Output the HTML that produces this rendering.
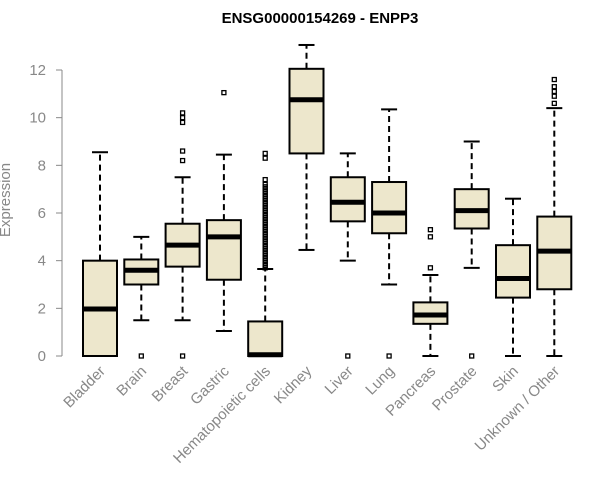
<!DOCTYPE html>
<html><head><meta charset="utf-8"><style>
body{margin:0;background:#fff;}
svg{display:block;font-family:"Liberation Sans",sans-serif;}
</style></head><body>
<svg id="chart" width="600" height="500"></svg>
<script>
const categories=["Bladder","Brain","Breast","Gastric","Hematopoietic cells","Kidney","Liver","Lung","Pancreas","Prostate","Skin","Unknown / Other"];
const whiskerLow=[0,1.5,1.5,1.05,0,4.45,4.0,3.0,0,3.7,0,0];
const q1=[0,3.0,3.75,3.2,0,8.5,5.65,5.15,1.35,5.35,2.45,2.8];
const medians=[1.97,3.6,4.65,5.0,0.05,10.75,6.45,6.0,1.72,6.1,3.25,4.4];
const q3=[4.0,4.05,5.55,5.7,1.45,12.05,7.5,7.3,2.25,7.0,4.65,5.85];
const whiskerHigh=[8.55,5.0,7.5,8.45,3.65,13.05,8.5,10.35,3.4,9.0,6.6,10.4];
const outliers=[[],[0],[0,8.2,8.6,9.8,10.0,10.2],[11.05],
[3.7,3.8,3.9,4.0,4.1,4.2,4.3,4.4,4.5,4.6,4.7,4.8,4.9,5.0,5.1,5.2,5.3,5.4,5.5,5.6,5.7,5.8,5.9,6.0,6.1,6.2,6.3,6.4,6.5,6.6,6.7,6.8,6.9,7.0,7.1,7.2,7.4,8.3,8.5],
[],[0],[0],[3.7,5.0,5.3],[0],[],[10.6,10.9,11.1,11.3,11.6]];
const yTicks=[0,2,4,6,8,10,12];

const NS="http://www.w3.org/2000/svg";
const svg=document.getElementById('chart');
const y=v=>356-v*(286/12);
const x=i=>100+i*41.3;
function mk(t,a){const e=document.createElementNS(NS,t);for(const k in a)e.setAttribute(k,a[k]);svg.appendChild(e);return e;}

const title=mk('text',{x:320,y:23,'text-anchor':'middle','font-size':15,'font-weight':'bold',fill:'#000'});
title.textContent="ENSG00000154269 - ENPP3";



const ax=mk('line',{x1:62,x2:62,y1:y(0),y2:y(12),stroke:'#888','stroke-width':1});


yTicks.forEach(v=>{
  mk('line',{x1:56,x2:62,y1:y(v),y2:y(v),stroke:'#888'});
  const t=mk('text',{x:46,y:y(v)+5,'text-anchor':'end','font-size':15,fill:'#888'});
  t.textContent=v;
  
  
});
const yt=mk('text',{x:10,y:200,'text-anchor':'middle','font-size':15,fill:'#888',transform:'rotate(-90 10 200)'});
yt.textContent="Expression";



categories.forEach((c,i)=>{
  const cx=x(i),w=17;
  const g=document.createElementNS(NS,'g');svg.appendChild(g);
  
  
  const add=(t,a)=>{const e=document.createElementNS(NS,t);for(const k in a)e.setAttribute(k,a[k]);g.appendChild(e);return e;};
  add('line',{x1:cx,x2:cx,y1:y(q3[i]),y2:y(whiskerHigh[i]),stroke:'#000','stroke-width':2,'stroke-dasharray':'6,4'});
  add('line',{x1:cx,x2:cx,y1:y(q1[i]),y2:y(whiskerLow[i]),stroke:'#000','stroke-width':2,'stroke-dasharray':'6,4'});
  add('line',{x1:cx-8,x2:cx+8,y1:y(whiskerHigh[i]),y2:y(whiskerHigh[i]),stroke:'#000','stroke-width':2});
  add('line',{x1:cx-8,x2:cx+8,y1:y(whiskerLow[i]),y2:y(whiskerLow[i]),stroke:'#000','stroke-width':2});
  add('rect',{x:cx-w,y:y(q3[i]),width:2*w,height:Math.max(y(q1[i])-y(q3[i]),0.5),fill:'#ede7cc',stroke:'#000','stroke-width':2});
  add('line',{x1:cx-w,x2:cx+w,y1:y(medians[i]),y2:y(medians[i]),stroke:'#000','stroke-width':5});
  outliers[i].forEach(v=>add('rect',{x:cx-2,y:y(v)-2,width:4,height:4,fill:'none',stroke:'#000','stroke-width':1.3}));
  const t=mk('text',{x:cx+6,y:372,'text-anchor':'end','font-size':15,fill:'#888',transform:`rotate(-45 ${cx+6} 372)`});
  t.textContent=c;
  
  
});
</script>
</body></html>
